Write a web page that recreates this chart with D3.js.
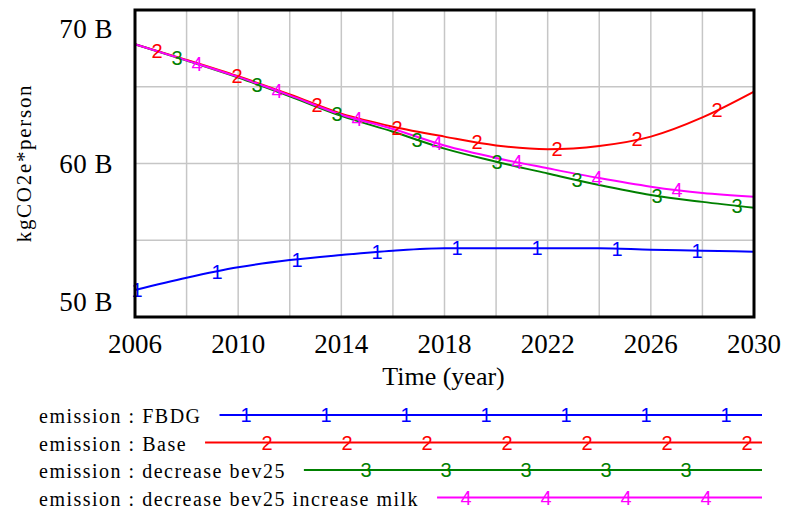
<!DOCTYPE html>
<html>
<head>
<meta charset="utf-8">
<script src="https://cdn.jsdelivr.net/npm/d3@7"></script>
<style>
  html, body { margin: 0; padding: 0; background: #fff; }
  svg { display: block; }
</style>
</head>
<body>
<svg id="chart" width="786" height="510"></svg>
<script>
// Simulated per-person emissions, billions of kgCO2e, every two years
const years = [2006, 2008, 2010, 2012, 2014, 2016, 2018, 2020, 2022, 2024, 2026, 2028, 2030];
const fbdg = [51.76, 52.56, 53.24, 53.71, 54.04, 54.32, 54.48, 54.48, 54.48, 54.48, 54.38, 54.32, 54.25];
const base = [67.77, 66.75, 65.68, 64.50, 63.25, 62.40, 61.75, 61.18, 60.93, 61.14, 61.75, 63.00, 64.68];
const decreaseBev25 = [67.77, 66.70, 65.60, 64.38, 63.10, 62.07, 60.97, 60.12, 59.35, 58.60, 57.95, 57.50, 57.12];
const decreaseBev25Milk = [67.77, 66.72, 65.64, 64.44, 63.18, 62.25, 61.17, 60.36, 59.69, 59.05, 58.49, 58.08, 57.84];

const seriesNames = ["emission : FBDG", "emission : Base", "emission : decrease bev25", "emission : decrease bev25 increase milk"];
const seriesColors = ["#0000ff", "#ff0000", "#008000", "#ff00ff"];
const seriesValues = [fbdg, base, decreaseBev25, decreaseBev25Milk];

const xTicks = [2006, 2010, 2014, 2018, 2022, 2026, 2030];
const xGrid = d3.range(2006, 2031, 2);
const yTicks = [50, 60, 70];
const yGrid = [50, 55, 60, 65, 70];

const svg = d3.select("#chart");
const serif = "'Liberation Serif', 'Times New Roman', serif";
const sans = "'Liberation Sans', Arial, sans-serif";

const x = d3.scaleLinear().domain([2006, 2030]).range([135, 754]);
const y = d3.scaleLinear().domain([50, 70]).range([317, 10]);

// grid
const grid = svg.append("g").attr("stroke", "#c6c6c6").attr("stroke-width", 1.5);
grid.selectAll("line.v").data(xGrid).join("line")
  .attr("x1", d => x(d)).attr("x2", d => x(d))
  .attr("y1", y(70)).attr("y2", y(50));
grid.selectAll("line.h").data(yGrid).join("line")
  .attr("x1", x(2006)).attr("x2", x(2030))
  .attr("y1", d => y(d)).attr("y2", d => y(d));

// series lines
const line = d3.line()
  .x((d, i) => x(years[i]))
  .y(d => y(d))
  .curve(d3.curveMonotoneX);

const plot = svg.append("g");
seriesValues.forEach((vals, s) => {
  plot.append("path")
    .attr("d", line(vals))
    .attr("fill", "none")
    .attr("stroke", seriesColors[s])
    .attr("stroke-width", 2);
});

// numbered markers along each line
const valueAt = (vals, yr) => {
  const i = Math.min(years.length - 2, Math.max(0, d3.bisectRight(years, yr) - 1));
  const t = (yr - years[i]) / (years[i + 1] - years[i]);
  return vals[i] + t * (vals[i + 1] - vals[i]);
};
const markerStep = 80;
const markerSize = 20;
seriesValues.forEach((vals, s) => {
  const start = x(2006) + 2 + 20 * s;
  const pos = d3.range(start, x(2030) + 0.5, markerStep);
  plot.selectAll(null).data(pos).join("text")
    .attr("x", d => d)
    .attr("y", d => y(valueAt(vals, x.invert(d))))
    .attr("dy", "0.36em")
    .attr("text-anchor", "middle")
    .attr("font-family", sans)
    .attr("font-size", markerSize)
    .attr("fill", seriesColors[s])
    .text(s + 1);
});

// frame
svg.append("rect")
  .attr("x", x(2006)).attr("y", y(70))
  .attr("width", x(2030) - x(2006)).attr("height", y(50) - y(70))
  .attr("fill", "none").attr("stroke", "#000").attr("stroke-width", 3);

// y tick labels
svg.append("g").selectAll("text").data(yTicks).join("text")
  .attr("x", 113)
  .attr("y", d => y(d) + (d === 70 ? 28 : d === 50 ? -6 : 9))
  .attr("text-anchor", "end")
  .attr("font-family", serif)
  .attr("font-size", 27)
  .attr("letter-spacing", 0.5)
  .text(d => d + " B");

// x tick labels
svg.append("g").selectAll("text").data(xTicks).join("text")
  .attr("x", d => x(d))
  .attr("y", 353)
  .attr("text-anchor", "middle")
  .attr("font-family", serif)
  .attr("font-size", 27)
  .text(d => d);

// axis titles
svg.append("text")
  .attr("x", (x(2006) + x(2030)) / 2 - 1)
  .attr("y", 385)
  .attr("text-anchor", "middle")
  .attr("font-family", serif)
  .attr("font-size", 26)
  .text("Time (year)");

svg.append("text")
  .attr("transform", "translate(31,163) rotate(-90)")
  .attr("text-anchor", "middle")
  .attr("font-family", serif)
  .attr("font-size", 21)
  .attr("letter-spacing", 1.7)
  .text("kgCO2e*person");

// legend
const legendRowY = [415, 442.5, 470, 497.5];
const legendMarkerStart = [246, 267, 366, 466];
const legendRight = 762;
const legend = svg.append("g");
seriesNames.forEach((name, s) => {
  const ly = legendRowY[s];
  const label = legend.append("text")
    .attr("x", 39)
    .attr("y", ly + 8)
    .attr("font-family", serif)
    .attr("font-size", 20)
    .attr("letter-spacing", 1.5)
    .text(name);
  const w = label.node().getComputedTextLength();
  legend.append("line")
    .attr("x1", 39 + w + 18).attr("x2", legendRight)
    .attr("y1", ly).attr("y2", ly)
    .attr("stroke", seriesColors[s]).attr("stroke-width", 2);
  const pos = d3.range(legendMarkerStart[s], legendRight, markerStep);
  legend.selectAll(null).data(pos).join("text")
    .attr("x", d => d)
    .attr("y", ly)
    .attr("dy", "0.36em")
    .attr("text-anchor", "middle")
    .attr("font-family", sans)
    .attr("font-size", markerSize)
    .attr("fill", seriesColors[s])
    .text(s + 1);
});
</script>
</body>
</html>
